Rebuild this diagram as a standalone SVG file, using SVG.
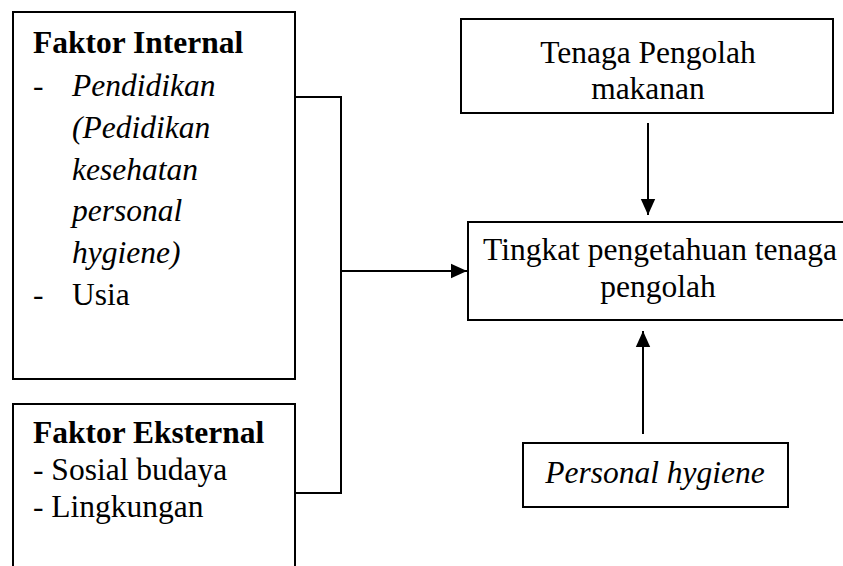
<svg xmlns="http://www.w3.org/2000/svg" width="843" height="566" viewBox="0 0 843 566">
<defs>
<style>
.box{fill:#fff;stroke:#000;stroke-width:2}
.t{font-family:"Liberation Serif","Times New Roman",serif;font-size:31.5px;fill:#000}
.b{font-weight:bold}
.i{font-style:italic}
.c{text-anchor:middle}
.ln{fill:none;stroke:#000;stroke-width:2}
</style>
<marker id="ah2" viewBox="0 0 10 10" refX="10" refY="5" markerWidth="16" markerHeight="16" markerUnits="userSpaceOnUse" orient="auto">
<path d="M0,0.5 L10,5 L0,9.5 Z" fill="#000"/>
</marker>
</defs>
<rect width="843" height="566" fill="#fff"/>
<g id="internal">
<rect class="box" x="13" y="12" width="282" height="367"/>
<text class="t b" x="33" y="53">Faktor Internal</text>
<text class="t" x="33" y="96">-</text>
<text class="t i" x="72" y="96">Pendidikan</text>
<text class="t i" x="72" y="138">(Pedidikan</text>
<text class="t i" x="72" y="180">kesehatan</text>
<text class="t i" x="72" y="221">personal</text>
<text class="t i" x="72" y="263">hygiene)</text>
<text class="t" x="33" y="305">-</text>
<text class="t" x="72" y="305">Usia</text>
</g>
<g id="eksternal">
<rect class="box" x="13" y="404" width="282" height="180"/>
<text class="t b" x="33" y="443">Faktor Eksternal</text>
<text class="t" x="33" y="480">- Sosial budaya</text>
<text class="t" x="33" y="517">- Lingkungan</text>
</g>
<g id="tenaga">
<rect class="box" x="461" y="19" width="372" height="94"/>
<text class="t c" x="648" y="63">Tenaga Pengolah</text>
<text class="t c" x="648" y="99">makanan</text>
</g>
<g id="tingkat">
<rect class="box" x="468" y="222" width="376" height="98"/>
<text class="t c" x="660" y="260">Tingkat pengetahuan tenaga</text>
<text class="t c" x="658" y="297">pengolah</text>
</g>
<g id="personal">
<rect class="box" x="523" y="443" width="265" height="64"/>
<text class="t i c" x="655" y="483">Personal hygiene</text>
</g>
<g id="connectors">
<polyline class="ln" points="295,97 341,97 341,493 295,493"/>
<line class="ln" x1="341" y1="271" x2="467" y2="271" marker-end="url(#ah2)"/>
<line class="ln" x1="648" y1="123" x2="648" y2="215" marker-end="url(#ah2)"/>
<line class="ln" x1="643" y1="434" x2="643" y2="331" marker-end="url(#ah2)"/>
</g>
</svg>
